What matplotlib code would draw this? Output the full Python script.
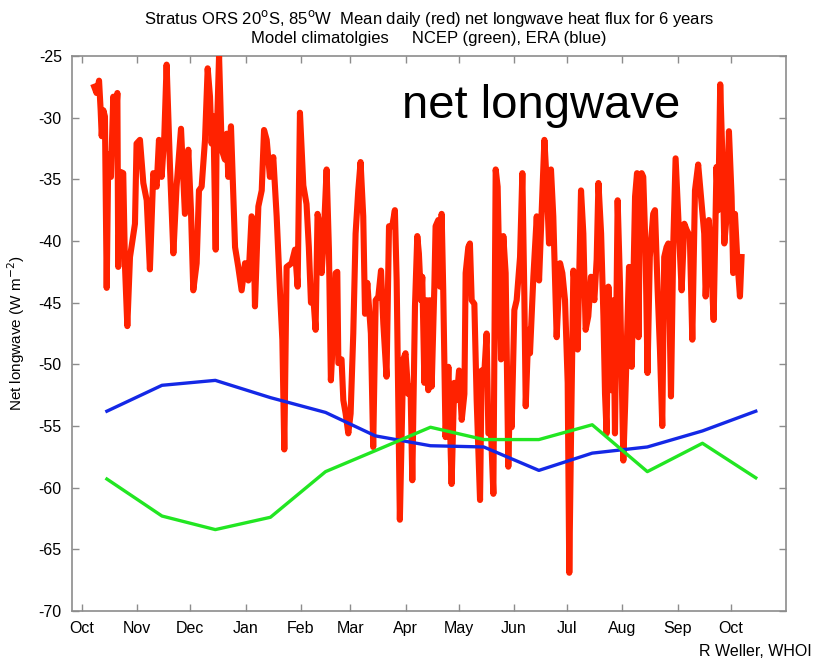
"""Stratus ORS net longwave: mean daily (red) vs NCEP / ERA monthly climatologies."""
import matplotlib
matplotlib.use("Agg")
import matplotlib.pyplot as plt

# days since 1 Oct
MONTH_START = [0, 31, 61, 92, 123, 151, 182, 212, 243, 273, 304, 335, 365]
MONTH_LABELS = ["Oct", "Nov", "Dec", "Jan", "Feb", "Mar", "Apr", "May",
                "Jun", "Jul", "Aug", "Sep", "Oct"]

# monthly climatologies at mid-month
clim_day = [14, 45, 75, 106, 137, 165, 196, 226, 257, 287, 318, 349, 379]
era = [-53.8, -51.7, -51.3, -52.7, -53.9, -55.8, -56.6, -56.7, -58.6, -57.2, -56.7, -55.4, -53.8]
ncep = [-59.3, -62.3, -63.4, -62.4, -58.7, -57.0, -55.1, -56.1, -56.1, -54.9, -58.7, -56.4, -59.2]

# mean daily net longwave
red_day = [6.9, 8.2, 9.6, 10.5, 11.1, 12.0, 12.9, 13.9, 14.8, 16.3, 17.6, 18.6, 19.9, 20.4,
           21.7, 23.2, 24.2, 25.5, 27.0, 29.8, 30.7, 32.6, 34.5, 36.4, 38.2, 40.1, 42.0, 43.3,
           44.8, 46.3, 47.6, 49.5, 51.4, 53.2, 55.7, 57.9, 59.8, 61.3, 62.6, 64.5, 65.8, 67.3,
           69.2, 70.7, 72.0, 72.9, 73.9, 75.2, 75.7, 77.1, 78.6, 80.4, 81.4, 82.3, 83.8, 86.1,
           87.9, 89.8, 91.7, 93.6, 95.4, 96.4, 97.3, 99.2, 101.1, 102.4, 103.9, 105.7, 107.6,
           109.5, 111.4, 112.7, 113.8, 115.1, 117.9, 119.8, 121.3, 122.6, 124.5, 126.3, 127.6,
           128.8, 130.1, 131.4, 132.5, 133.8, 134.8, 135.7, 137.6, 138.9, 140.0, 141.3, 142.7,
           143.6, 144.2, 146.0, 147.0, 148.3, 149.8, 151.1, 152.6, 153.9, 155.4, 156.7, 158.2,
           159.2, 160.5, 162.5, 163.8, 165.2, 166.7, 168.2, 169.5, 171.3, 172.7, 174.5, 176.0,
           177.0, 178.8, 180.7, 182.0, 183.5, 184.8, 185.8, 187.3, 188.6, 189.5, 190.7, 191.4,
           192.6, 193.9, 194.8, 195.7, 196.7, 198.2, 198.9, 200.4, 201.4, 202.3, 203.2, 204.5,
           206.1, 207.9, 209.4, 210.7, 212.1, 213.6, 215.1, 215.8, 217.3, 218.2, 219.2, 220.7,
           222.0, 223.9, 224.8, 226.3, 227.6, 228.6, 230.1, 231.4, 232.7, 233.8, 235.7, 237.0,
           238.3, 239.8, 240.7, 241.7, 243.2, 244.5, 246.4, 247.7, 248.8, 249.6, 251.1, 252.0,
           253.9, 255.8, 257.1, 258.6, 260.1, 261.4, 262.7, 263.8, 265.1, 267.0, 268.9, 270.2,
           271.7, 273.2, 274.1, 275.1, 276.4, 277.7, 278.8, 280.7, 282.0, 283.3, 284.8, 286.3,
           288.2, 289.5, 290.5, 292.0, 293.3, 294.2, 295.1, 296.1, 297.6, 298.9, 299.8, 301.3,
           302.6, 304.5, 305.5, 307.7, 309.2, 311.1, 312.2, 313.0, 314.0, 314.8, 315.7, 317.0,
           318.1, 319.4, 321.3, 322.3, 323.8, 325.1, 326.4, 327.5, 328.8, 329.8, 331.3, 332.6,
           333.9, 335.4, 337.3, 338.8, 340.1, 341.9, 343.3, 344.8, 346.6, 348.5, 350.0, 350.8,
           352.6, 353.8, 355.3, 356.9, 357.9, 359.0, 360.1, 361.3, 362.6, 363.9, 365.4, 366.3,
           367.3, 368.6, 370.1, 371.0]
red_val = [-27.5, -28.0, -27.0, -29.4, -31.5, -29.4, -29.9, -43.8, -33.0, -34.8, -28.3, -31.3,
           -28.0, -42.1, -34.4, -34.5, -42.1, -46.9, -41.3, -38.6, -32.1, -31.8, -35.3, -36.7,
           -42.3, -34.5, -35.6, -31.8, -34.8, -31.5, -25.7, -34.0, -41.0, -35.6, -30.9, -37.8,
           -32.6, -37.5, -44.0, -41.8, -35.9, -35.6, -31.8, -26.0, -28.3, -32.1, -29.9, -40.7,
           -32.1, -25.0, -32.6, -33.4, -31.3, -34.8, -30.7, -40.5, -42.1, -44.0, -41.8, -43.2,
           -38.0, -38.3, -45.3, -37.2, -35.9, -31.0, -31.8, -34.8, -33.2, -38.0, -44.2, -48.0,
           -56.9, -42.1, -41.8, -40.7, -43.7, -29.6, -35.5, -37.0, -40.5, -45.0, -44.5, -47.2,
           -37.8, -38.8, -42.6, -40.5, -34.2, -40.7, -51.3, -47.5, -42.6, -42.5, -49.9, -49.6,
           -52.9, -54.0, -55.6, -54.0, -47.5, -39.4, -35.9, -33.6, -38.0, -45.9, -43.4, -47.5,
           -56.7, -44.8, -44.5, -42.4, -46.7, -51.0, -38.8, -38.8, -37.5, -43.2, -62.6, -49.6,
           -49.1, -52.4, -51.8, -59.4, -45.3, -39.6, -41.0, -44.8, -42.9, -51.5, -44.8, -52.1,
           -44.8, -51.8, -43.7, -38.8, -38.3, -43.7, -37.8, -44.0, -55.9, -50.2, -59.7, -51.5,
           -52.9, -50.5, -54.5, -52.4, -42.6, -40.5, -40.2, -44.8, -45.1, -52.9, -61.0, -50.5,
           -50.7, -47.5, -55.6, -55.6, -60.5, -34.2, -35.6, -49.6, -39.6, -42.6, -58.3, -52.4,
           -55.1, -45.6, -44.8, -41.3, -34.5, -44.2, -53.4, -47.2, -49.1, -42.9, -38.0, -43.2,
           -37.5, -31.8, -35.3, -40.2, -34.2, -38.0, -47.8, -41.8, -42.6, -44.8, -51.5, -66.9,
           -55.6, -42.4, -44.2, -48.8, -35.9, -39.4, -47.2, -46.1, -42.9, -44.8, -41.5, -35.3,
           -39.4, -46.1, -52.4, -55.6, -43.7, -52.1, -44.8, -55.6, -36.7, -43.4, -57.8, -53.4,
           -42.1, -50.2, -36.4, -34.5, -47.8, -35.9, -34.5, -34.8, -40.7, -50.7, -41.3, -37.8,
           -37.5, -44.0, -48.8, -55.0, -41.3, -40.5, -40.2, -52.6, -40.2, -33.3, -38.0, -44.0,
           -38.6, -39.1, -39.6, -48.0, -35.9, -33.8, -36.9, -39.4, -44.5, -38.3, -41.5, -46.4,
           -34.0, -37.5, -27.3, -32.6, -40.2, -38.0, -31.1, -36.4, -42.6, -37.8, -41.5, -44.5,
           -41.3]


def main():
    plt.rcParams["font.family"] = ["Liberation Sans", "DejaVu Sans"]
    plt.rcParams["axes.unicode_minus"] = False

    fig = plt.figure(figsize=(8.18, 6.59), dpi=100)
    ax = fig.add_axes([71.5 / 818, 1 - 611 / 659, (786 - 71.5) / 818, (611 - 56) / 659])

    ax.plot(red_day, red_val, c="#ff2200", lw=4.4, solid_joinstyle="round", zorder=3)
    ax.plot(clim_day, era, c="#1428e6", lw=2.4, zorder=4)
    ax.plot(clim_day, ncep, c="#22e622", lw=2.4, zorder=4)

    ax.set_xlim(-5.9, 396)
    ax.set_ylim(-70, -25)
    ax.set_xticks(MONTH_START)
    ax.set_xticklabels(MONTH_LABELS)
    ax.set_yticks(range(-70, -24, 5))
    ax.tick_params(direction="in", length=5, width=1, color="0.55", labelsize=11.5,
                   top=True, right=True, pad=7)
    for sp in ax.spines.values():
        sp.set_color("0.55")
        sp.set_linewidth(1.2)

    ax.set_ylabel("Net longwave (W m$^{-2}$)", fontsize=11, labelpad=8)
    ax.set_title("Stratus ORS 20$^{\\rm o}$S, 85$^{\\rm o}$W  Mean daily (red) net longwave heat flux for 6 years\n"
                 "Model climatolgies     NCEP (green), ERA (blue)", fontsize=12, pad=9,
                 linespacing=1.2)
    ax.text((402 - 71.5) / 714.5, 1 - (118 - 56) / 555, "net longwave", transform=ax.transAxes,
            fontsize=34, va="baseline", ha="left")
    fig.text(812 / 818, 1 - 656 / 659, "R Weller, WHOI", fontsize=11.5, ha="right", va="baseline")

    fig.savefig("out.png", dpi=100)


if __name__ == "__main__":
    main()
